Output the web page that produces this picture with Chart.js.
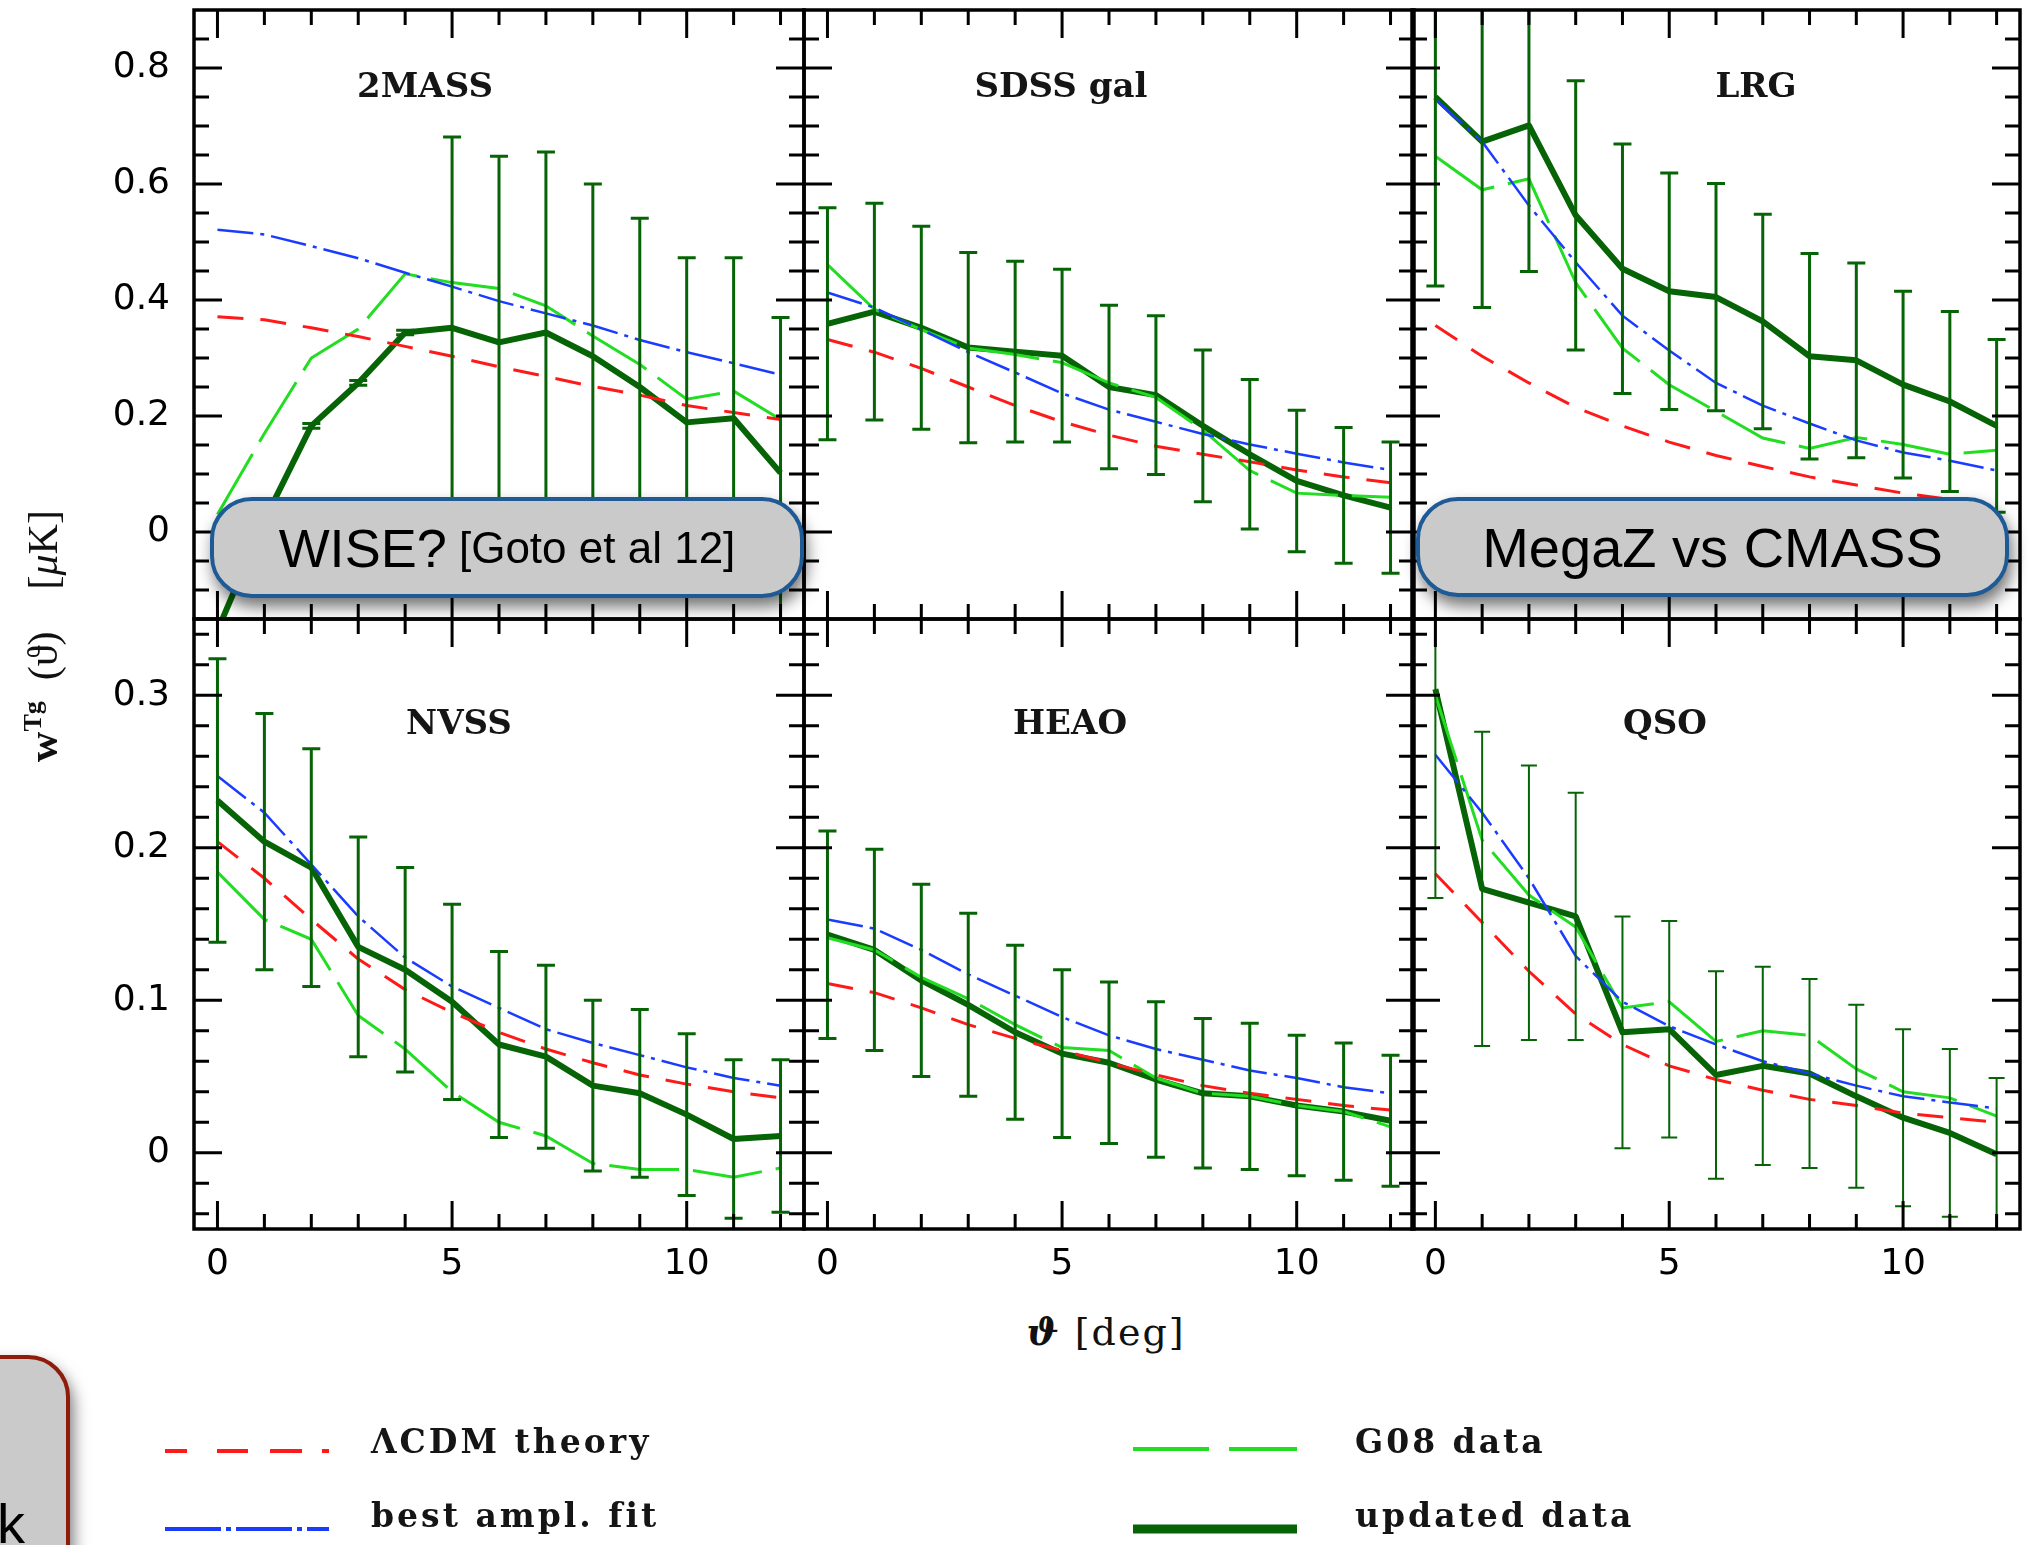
<!DOCTYPE html>
<html><head><meta charset="utf-8">
<script src="https://cdn.jsdelivr.net/npm/chart.js@4.4.1/dist/chart.umd.min.js"></script>
<style>
html,body{margin:0;padding:0;background:#fff;}
body{width:2028px;height:1545px;position:relative;overflow:hidden;font-family:"Liberation Sans",Arial,sans-serif;}
canvas{position:absolute;}
.ptitle{position:absolute;font-family:"DejaVu Serif",serif;font-weight:bold;font-size:34px;color:#151515;transform:translate(-50%,-50%);white-space:nowrap;line-height:1;}
.callout{position:absolute;box-sizing:border-box;background:#cacaca;border:4px solid #1d5a96;border-radius:42px;box-shadow:3px 9px 16px rgba(0,0,0,0.55);display:flex;align-items:center;justify-content:center;color:#000;white-space:nowrap;z-index:10;font-family:"Liberation Sans",Arial,sans-serif;}
.legtext{position:absolute;font-family:"DejaVu Serif",serif;font-weight:bold;font-size:33px;letter-spacing:3px;color:#151515;transform:translateY(-50%);white-space:nowrap;line-height:1;}
#ylabel{position:absolute;left:42px;top:636px;transform:translate(-50%,-50%) rotate(-90deg);font-family:"Liberation Serif",serif;font-size:42px;color:#111;white-space:nowrap;line-height:1;}
#xtitle{position:absolute;left:1106px;top:1332px;transform:translate(-50%,-50%);font-family:"DejaVu Serif",serif;font-size:38px;color:#111;white-space:nowrap;line-height:1;letter-spacing:2px;}
</style></head><body>
<script>
// ---------------- data ----------------
const theta = [0,1,2,3,4,5,6,7,8,9,10,11,12];
const panelNames = ['2MASS','SDSS gal','LRG','NVSS','HEAO','QSO'];

const mass2Lcdm = [0.371,0.366,0.352,0.337,0.320,0.303,0.285,0.268,0.251,0.236,0.218,0.206,0.194];
const mass2Fit  = [0.521,0.513,0.493,0.472,0.447,0.423,0.398,0.377,0.356,0.331,0.310,0.291,0.271];
const mass2G08  = [0.030,0.170,0.300,0.350,0.445,0.430,0.420,0.390,0.338,0.289,0.229,0.243,0.194];
const mass2New  = [-0.170,0.020,0.183,0.257,0.344,0.352,0.327,0.344,0.303,0.250,0.189,0.196,0.102];
const mass2Err  = [0.004,0.004,0.004,0.004,0.004,0.329,0.321,0.311,0.297,0.291,0.284,0.277,0.268];

const sdssLcdm = [0.332,0.310,0.282,0.250,0.218,0.190,0.167,0.148,0.134,0.121,0.107,0.095,0.085];
const sdssFit  = [0.413,0.387,0.349,0.310,0.275,0.239,0.211,0.190,0.169,0.151,0.135,0.120,0.107];
const sdssG08  = [0.461,0.384,0.349,0.317,0.306,0.292,0.257,0.232,0.176,0.106,0.067,0.063,0.060];
const sdssNew  = [0.359,0.380,0.352,0.318,0.311,0.304,0.250,0.236,0.183,0.134,0.088,0.063,0.042];
const sdssErr  = [0.200,0.187,0.175,0.164,0.156,0.149,0.141,0.137,0.131,0.129,0.122,0.117,0.113];

const lrgLcdm = [0.356,0.303,0.257,0.215,0.183,0.155,0.132,0.113,0.095,0.081,0.067,0.056,0.046];
const lrgFit  = [0.746,0.673,0.563,0.465,0.373,0.313,0.257,0.218,0.187,0.158,0.137,0.123,0.106];
const lrgG08  = [0.648,0.590,0.609,0.430,0.317,0.254,0.208,0.162,0.144,0.163,0.151,0.134,0.141];
const lrgNew  = [0.750,0.673,0.701,0.546,0.454,0.415,0.405,0.363,0.303,0.296,0.254,0.225,0.183];
const lrgErr  = [0.326,0.286,0.252,0.232,0.215,0.204,0.196,0.185,0.177,0.168,0.161,0.155,0.149];

const nvssLcdm = [0.204,0.180,0.153,0.127,0.107,0.092,0.079,0.068,0.059,0.051,0.045,0.040,0.036];
const nvssFit  = [0.247,0.223,0.189,0.155,0.128,0.109,0.095,0.081,0.072,0.064,0.056,0.049,0.044];
const nvssG08  = [0.184,0.153,0.140,0.090,0.068,0.040,0.020,0.011,-0.007,-0.011,-0.011,-0.016,-0.010];
const nvssNew  = [0.231,0.204,0.187,0.135,0.120,0.099,0.071,0.063,0.044,0.039,0.025,0.009,0.011];
const nvssErr  = [0.093,0.084,0.078,0.072,0.067,0.064,0.061,0.060,0.056,0.055,0.053,0.052,0.050];

const heaoLcdm = [0.111,0.105,0.095,0.084,0.075,0.067,0.059,0.051,0.044,0.039,0.035,0.031,0.028];
const heaoFit  = [0.153,0.147,0.133,0.117,0.103,0.089,0.077,0.068,0.061,0.054,0.049,0.043,0.039];
const heaoG08  = [0.141,0.133,0.115,0.101,0.084,0.069,0.067,0.049,0.039,0.037,0.031,0.027,0.017];
const heaoNew  = [0.143,0.133,0.113,0.097,0.079,0.065,0.059,0.048,0.039,0.037,0.031,0.027,0.021];
const heaoErr  = [0.068,0.066,0.063,0.060,0.057,0.055,0.053,0.051,0.049,0.048,0.046,0.045,0.043];

const qsoLcdm = [0.183,0.151,0.119,0.091,0.071,0.057,0.048,0.041,0.035,0.031,0.026,0.023,0.020];
const qsoFit  = [0.261,0.223,0.180,0.129,0.099,0.083,0.071,0.060,0.052,0.044,0.037,0.033,0.029];
const qsoG08  = [0.300,0.205,0.169,0.148,0.095,0.099,0.073,0.080,0.077,0.055,0.040,0.036,0.024];
const qsoNew  = [0.304,0.173,0.164,0.155,0.079,0.081,0.051,0.057,0.052,0.037,0.023,0.013,-0.001];
const qsoErr  = [0.137,0.103,0.090,0.081,0.076,0.071,0.068,0.065,0.062,0.060,0.058,0.055,0.050];

// ticks
const xTickLabels = [0,5,10];
const xMinorTicks = [0,1,2,3,4,5,6,7,8,9,10,11,12];
const yTickLabelsTop = [0,0.2,0.4,0.6,0.8];
const yMinorTop = [-0.1,-0.05,0,0.05,0.1,0.15,0.2,0.25,0.3,0.35,0.4,0.45,0.5,0.55,0.6,0.65,0.7,0.75,0.8,0.85];
const yTickLabelsBot = [0,0.1,0.2,0.3];
const yMinorBot = [-0.04,-0.02,0,0.02,0.04,0.06,0.08,0.1,0.12,0.14,0.16,0.18,0.2,0.22,0.24,0.26,0.28,0.3,0.32,0.34];
const seriesNames = ['\u039BCDM theory','best ampl. fit','G08 data','updated data'];

// ---------------- layout ----------------
const rowTop=[10,619], rowH=[609,610];
const colLeft=[194,804,1412], colW=[610,610,608];
const rowAxis=[{min:-0.15,max:0.9,labels:yTickLabelsTop,minor:yMinorTop},{min:-0.05,max:0.35,labels:yTickLabelsBot,minor:yMinorBot}];
const panelData=[
  [mass2Lcdm,mass2Fit,mass2G08,mass2New,mass2Err],
  [sdssLcdm,sdssFit,sdssG08,sdssNew,sdssErr],
  [lrgLcdm,lrgFit,lrgG08,lrgNew,lrgErr],
  [nvssLcdm,nvssFit,nvssG08,nvssNew,nvssErr],
  [heaoLcdm,heaoFit,heaoG08,heaoNew,heaoErr],
  [qsoLcdm,qsoFit,qsoG08,qsoNew,qsoErr]
];
const titlePos=[[425,85],[1061,85],[1756,85],[459,722],[1070,722],[1665,722]];

const RED='#ff1a1a', BLUE='#1a3cff', LGREEN='#22dd22', DGREEN='#066406';
const FONT='"DejaVu Sans", "Liberation Sans", Arial, sans-serif';

const errorBars={
  id:'errorBars',
  afterDatasetsDraw(chart,args,o){
    const {ctx,chartArea:ca,scales:{x,y}}=chart;
    ctx.save();
    ctx.beginPath();ctx.rect(ca.left,ca.top,ca.right-ca.left,ca.bottom-ca.top);ctx.clip();
    ctx.strokeStyle=o.color;ctx.lineWidth=o.width;ctx.lineCap='butt';
    ctx.beginPath();
    o.xs.forEach((xv,i)=>{
      const px=x.getPixelForValue(xv);
      const lo=y.getPixelForValue(o.ys[i]-o.es[i]);
      const hi=y.getPixelForValue(o.ys[i]+o.es[i]);
      ctx.moveTo(px,lo);ctx.lineTo(px,hi);
      ctx.moveTo(px-o.cap,lo);ctx.lineTo(px+o.cap,lo);
      ctx.moveTo(px-o.cap,hi);ctx.lineTo(px+o.cap,hi);
    });
    ctx.stroke();ctx.restore();
  }
};
const frameTicks={
  id:'frameTicks',
  afterDatasetsDraw(chart,args,o){
    const {ctx,chartArea:{left,right,top,bottom},scales:{x,y}}=chart;
    ctx.save();
    ctx.strokeStyle='#000';ctx.lineWidth=3;ctx.lineCap='butt';
    ctx.beginPath();
    o.xMinor.forEach(v=>{
      const px=x.getPixelForValue(v);const L=o.xMajor.includes(v)?28:15;
      ctx.moveTo(px,bottom);ctx.lineTo(px,bottom-L);
      ctx.moveTo(px,top);ctx.lineTo(px,top+L);
    });
    o.yMinor.forEach(v=>{
      const py=y.getPixelForValue(v);const L=o.yMajor.includes(v)?28:15;
      ctx.moveTo(left,py);ctx.lineTo(left+L,py);
      ctx.moveTo(right,py);ctx.lineTo(right-L,py);
    });
    ctx.stroke();
    ctx.lineWidth=3.5;
    ctx.strokeRect(left,top,right-left,bottom-top);
    ctx.restore();
  }
};

const pts=arr=>arr.map((v,i)=>({x:theta[i],y:v}));

for(let p=0;p<6;p++){
  const r=Math.floor(p/3), c=p%3;
  const [lcdm,fit,g08,upd,err]=panelData[p];
  const ax=rowAxis[r];
  const padL=c===0?0:4, yW=c===0?194:0;
  const xH=r===1?80:0;
  const cw=(c===0?194:4)+colW[c]+4;
  const ch=4+rowH[r]+(r===1?80:4);
  const cv=document.createElement('canvas');
  cv.width=cw;cv.height=ch;
  cv.style.width=cw+'px';cv.style.height=ch+'px';
  cv.style.left=(c===0?0:colLeft[c]-4)+'px';
  cv.style.top=(rowTop[r]-4)+'px';
  document.body.appendChild(cv);
  new Chart(cv,{
    type:'line',
    data:{datasets:[
      {label:seriesNames[0],data:pts(lcdm),borderColor:RED,borderWidth:3,borderDash:[26,17],pointRadius:0,tension:0,fill:false},
      {label:seriesNames[1],data:pts(fit),borderColor:BLUE,borderWidth:2.5,borderDash:[36,7,4,7],pointRadius:0,tension:0,fill:false},
      {label:seriesNames[2],data:pts(g08),borderColor:LGREEN,borderWidth:3,borderDash:[70,14],pointRadius:0,tension:0,fill:false},
      {label:seriesNames[3],data:pts(upd),borderColor:DGREEN,borderWidth:6,pointRadius:0,tension:0,fill:false,borderJoinStyle:'round'}
    ]},
    options:{
      responsive:false,animation:false,devicePixelRatio:1,
      layout:{padding:{left:padL,right:4,top:4,bottom:r===1?0:4}},
      plugins:{
        legend:{display:false},tooltip:{enabled:false},
        errorBars:{xs:theta,ys:upd,es:err,color:DGREEN,width:p===5?2:3,cap:p===5?8:9},
        frameTicks:{xMinor:xMinorTicks,xMajor:xTickLabels,yMinor:ax.minor,yMajor:ax.labels}
      },
      scales:{
        x:{type:'linear',min:-0.5,max:12.5,display:r===1,
           grid:{display:false,drawTicks:false},border:{display:false},
           ticks:{font:{family:FONT,size:36},color:'#000',padding:14,maxRotation:0,autoSkip:false,callback:v=>String(v)},
           afterBuildTicks:s=>{s.ticks=xTickLabels.map(v=>({value:v}));},
           afterFit:s=>{s.height=xH;s.paddingLeft=0;s.paddingRight=0;}},
        y:{type:'linear',min:ax.min,max:ax.max,display:c===0,position:'left',
           grid:{display:false,drawTicks:false},border:{display:false},
           ticks:{font:{family:FONT,size:36},color:'#000',padding:24,autoSkip:false,callback:v=>String(v)},
           afterBuildTicks:s=>{s.ticks=ax.labels.map(v=>({value:v}));},
           afterFit:s=>{s.width=yW;s.paddingTop=0;s.paddingBottom=0;}}
      }
    },
    plugins:[errorBars,frameTicks]
  });
  const t=document.createElement('div');
  t.className='ptitle';t.textContent=panelNames[p];
  t.style.left=titlePos[p][0]+'px';t.style.top=titlePos[p][1]+'px';
  document.body.appendChild(t);
}
</script>

<div id="ylabel"><b>w<sup style="font-size:26px;vertical-align:16px">Tg</sup></b>&nbsp; (ϑ) &nbsp;&nbsp; [<i>μ</i>K]</div>
<div id="xtitle"><b><i>ϑ</i></b> [deg]</div>

<svg style="position:absolute;left:0;top:0;" width="2028" height="1545">
  <line x1="165" y1="1451" x2="329" y2="1451" stroke="#ff1a1a" stroke-width="4" stroke-dasharray="22 30 31 22 32 20 7 10"/>
  <line x1="165" y1="1529" x2="329" y2="1529" stroke="#1a3cff" stroke-width="4" stroke-dasharray="56 5 5 5"/>
  <line x1="1133" y1="1449" x2="1297" y2="1449" stroke="#22dd22" stroke-width="4" stroke-dasharray="76 20"/>
  <line x1="1133" y1="1529" x2="1297" y2="1529" stroke="#066406" stroke-width="9"/>
</svg>
<div class="legtext" style="left:371px;top:1441px;">ΛCDM theory</div>
<div class="legtext" style="left:371px;top:1515px;">best ampl. fit</div>
<div class="legtext" style="left:1355px;top:1441px;">G08 data</div>
<div class="legtext" style="left:1355px;top:1515px;">updated data</div>

<div class="callout" style="left:210px;top:497px;width:594px;height:101px;"><span style="font-size:54px;">WISE?</span><span style="font-size:44px;">&nbsp;[Goto et al 12]</span></div>
<div class="callout" style="left:1416px;top:497px;width:593px;height:100px;"><span style="font-size:56px;">MegaZ vs CMASS</span></div>
<div class="callout" style="left:-120px;top:1355px;width:190px;height:320px;border-color:#8e1b0b;"></div>
<div style="position:absolute;left:-3px;top:1496px;font-size:56px;line-height:56px;z-index:11;font-family:'Liberation Sans',Arial,sans-serif;">k</div>
</body></html>
